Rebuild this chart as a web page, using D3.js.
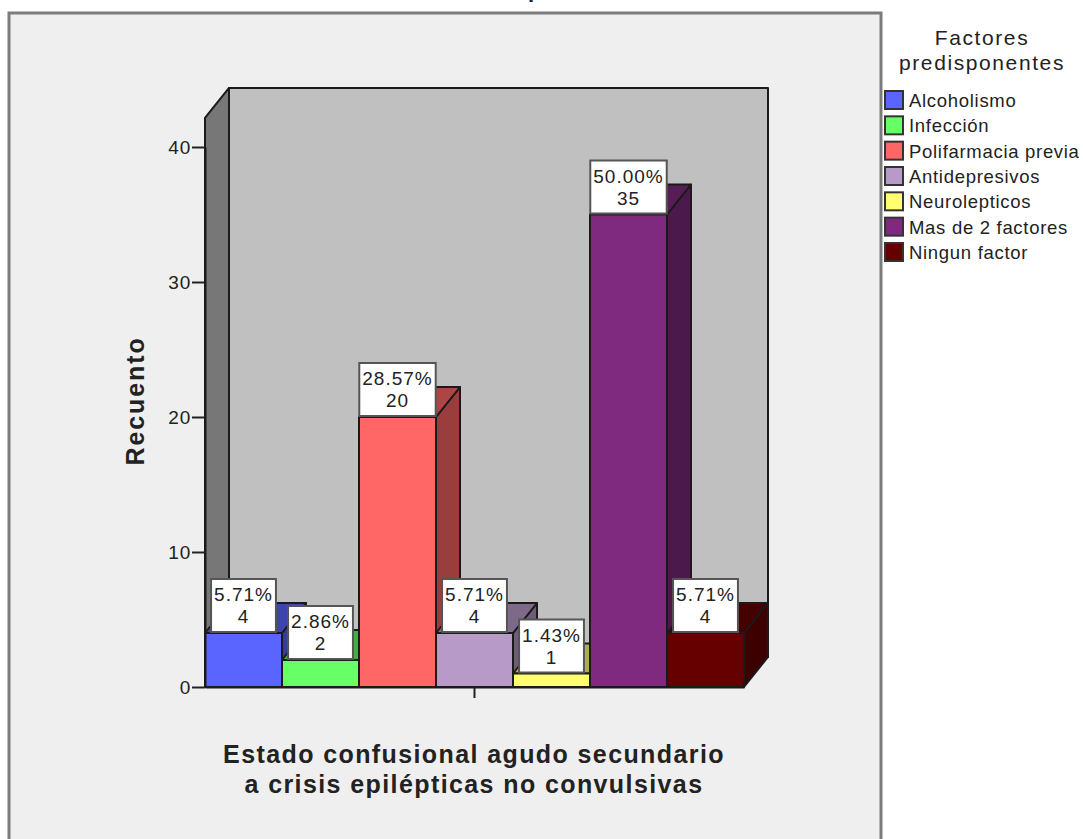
<!DOCTYPE html>
<html>
<head>
<meta charset="utf-8">
<script src="https://cdn.jsdelivr.net/npm/d3@7"></script>
<style>
  html, body { margin: 0; padding: 0; background: #fff; overflow: hidden; }
  svg { display: block; }
  text { font-family: "Liberation Sans", Arial, sans-serif; fill: #222; }
</style>
</head>
<body>
<div id="chart"></div>
<script>
// Predisposing factors: counts per category
const factors = ["Alcoholismo", "Infección", "Polifarmacia previa", "Antidepresivos", "Neurolepticos", "Mas de 2 factores", "Ningun factor"];
const counts = [4, 2, 20, 4, 1, 35, 4];
const percents = ["5.71%", "2.86%", "28.57%", "5.71%", "1.43%", "50.00%", "5.71%"];
const fills = ["#5a64ff", "#66ff66", "#ff6666", "#b89ac8", "#ffff70", "#7f2a7f", "#660000"];
const countTicks = [0, 10, 20, 30, 40];
const groupName = ["Estado confusional agudo secundario", "a crisis epilépticas no convulsivas"];
const legendTitle = ["Factores", "predisponentes"];
const countAxisTitle = "Recuento";

const width = 1083, height = 839;
const frame = { left: 9, top: 13, right: 881, bottom: 845 };
const plot = { left: 205, right: 744, bottom: 687 };
const depth = { x: 24, y: -30 };
const wallMax = 42.15;

const svg = d3.select("#chart").append("svg").attr("width", width).attr("height", height);

// Chart area
svg.append("rect")
  .attr("x", frame.left).attr("y", frame.top)
  .attr("width", frame.right - frame.left).attr("height", frame.bottom - frame.top)
  .attr("fill", "#efefef").attr("stroke", "#7c7c7c").attr("stroke-width", 3);

// Descender of the heading, which runs off the top edge of the page
svg.append("text").attr("x", 528).attr("y", -3)
  .attr("font-size", 22).attr("font-weight", "bold").text("p");

const y = d3.scaleLinear().domain([0, 40]).range([plot.bottom, 147]);
const group = d3.scaleBand().domain([groupName.join(" ")]).range([plot.left, plot.right]);
const x = d3.scaleBand().domain(factors).range([plot.left, plot.right]);

const edge = { stroke: "#1a1a1a", "stroke-width": 2, "stroke-linejoin": "round" };
const applyEdge = sel => Object.entries(edge).forEach(([k, v]) => sel.attr(k, v));
const poly = pts => pts.map(p => p.join(",")).join(" ");
const shade = (c, k) => {
  const r = d3.rgb(c);
  return d3.rgb(r.r * k, r.g * k, r.b * k).formatHex();
};

// Box walls behind the bars
const wallTop = y(wallMax);
svg.append("polygon")
  .attr("points", poly([
    [plot.left + depth.x, wallTop + depth.y], [plot.right + depth.x, wallTop + depth.y],
    [plot.right + depth.x, plot.bottom + depth.y], [plot.left + depth.x, plot.bottom + depth.y]]))
  .attr("fill", "#c0c0c0").call(applyEdge);
svg.append("polygon")
  .attr("points", poly([
    [plot.left, wallTop], [plot.left + depth.x, wallTop + depth.y],
    [plot.left + depth.x, plot.bottom + depth.y], [plot.left, plot.bottom]]))
  .attr("fill", "#777777").call(applyEdge);

// Extruded bars, left to right so each one overlaps its neighbour's side face
const bars = svg.append("g").selectAll("g").data(factors).join("g");
bars.each(function (name, i) {
  const g = d3.select(this);
  const x0 = x(name), x1 = x0 + x.bandwidth(), yt = y(counts[i]), yb = y(0);
  g.append("polygon")
    .attr("points", poly([[x1, yt], [x1 + depth.x, yt + depth.y], [x1 + depth.x, yb + depth.y], [x1, yb]]))
    .attr("fill", shade(fills[i], 0.6)).call(applyEdge);
  g.append("polygon")
    .attr("points", poly([[x0, yt], [x0 + depth.x, yt + depth.y], [x1 + depth.x, yt + depth.y], [x1, yt]]))
    .attr("fill", shade(fills[i], 0.68)).call(applyEdge);
  g.append("rect")
    .attr("x", x0).attr("y", yt).attr("width", x.bandwidth()).attr("height", yb - yt)
    .attr("fill", fills[i]).call(applyEdge);
});

// Axes
const axisLeft = svg.append("g").attr("transform", `translate(${plot.left},0)`)
  .call(d3.axisLeft(y).tickValues(countTicks).tickSizeInner(13).tickSizeOuter(0).tickPadding(1).tickFormat(d3.format("d")));
const axisBottom = svg.append("g").attr("transform", `translate(0,${plot.bottom})`)
  .call(d3.axisBottom(group).tickSizeInner(11).tickSizeOuter(0).tickFormat(""));
[axisLeft, axisBottom].forEach(a => {
  a.select(".domain").attr("stroke", "#1a1a1a").attr("stroke-width", 2);
  a.selectAll(".tick line").attr("stroke", "#222").attr("stroke-width", 2);
});
axisLeft.selectAll("text").attr("font-size", 19).attr("font-family", "Liberation Sans").attr("fill", "#222").attr("dy", "0.33em").attr("letter-spacing", 0.8);

// Value labels: percentage and count in a white box sitting on the bar
const labels = svg.append("g").selectAll("g").data(factors).join("g");
labels.each(function (name, i) {
  const g = d3.select(this);
  const cx = x(name) + x.bandwidth() / 2, bottom = y(counts[i]) - 1;
  const box = g.append("rect").attr("y", bottom - 53).attr("height", 53)
    .attr("fill", "#fff").attr("stroke", "#555").attr("stroke-width", 2);
  const top = g.append("text").attr("x", cx).attr("y", bottom - 31)
    .attr("text-anchor", "middle").attr("font-size", 19).attr("letter-spacing", 1).text(percents[i]);
  g.append("text").attr("x", cx).attr("y", bottom - 9)
    .attr("text-anchor", "middle").attr("font-size", 19).attr("letter-spacing", 1).text(counts[i]);
  const w = top.node().getComputedTextLength() + 6;
  box.attr("x", cx - w / 2).attr("width", w);
});

// Axis titles
svg.append("text")
  .attr("transform", "translate(144,401) rotate(-90)")
  .attr("text-anchor", "middle").attr("font-size", 25).attr("font-weight", "bold")
  .attr("letter-spacing", 1.9).text(countAxisTitle);
svg.append("g").selectAll("text").data(groupName).join("text")
  .attr("x", 474).attr("y", (d, i) => 763 + i * 30)
  .attr("text-anchor", "middle").attr("font-size", 25).attr("font-weight", "bold")
  .attr("letter-spacing", 1.4).text(d => d);

// Legend
svg.append("g").selectAll("text").data(legendTitle).join("text")
  .attr("x", 982).attr("y", (d, i) => 45 + i * 25)
  .attr("text-anchor", "middle").attr("font-size", 21).attr("letter-spacing", 1.6).text(d => d);
const legendRow = d3.scalePoint().domain(factors).range([100, 252]);
const legend = svg.append("g").selectAll("g").data(factors).join("g")
  .attr("transform", d => `translate(885,${legendRow(d)})`);
legend.append("rect").attr("x", 0).attr("y", -9).attr("width", 18).attr("height", 18)
  .attr("fill", (d, i) => fills[i]).attr("stroke", "#333").attr("stroke-width", 2);
legend.append("text").attr("x", 24).attr("y", 7)
  .attr("font-size", 18.5).attr("letter-spacing", 0.7).text(d => d);
</script>
</body>
</html>
